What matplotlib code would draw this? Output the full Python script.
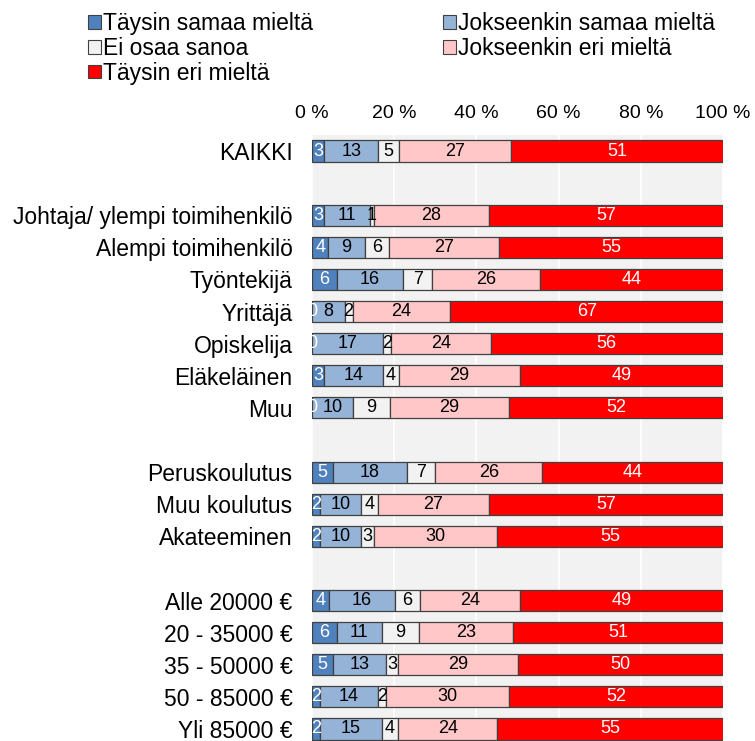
import matplotlib
matplotlib.use("Agg")
import matplotlib.pyplot as plt
from matplotlib.patches import Patch
import numpy as np

plt.rcParams['font.family'] = ['Liberation Sans', 'DejaVu Sans']

# categories, top to bottom ('' = empty spacer row)
categories = ['KAIKKI', '',
              'Johtaja/ ylempi toimihenkilö', 'Alempi toimihenkilö', 'Työntekijä',
              'Yrittäjä', 'Opiskelija', 'Eläkeläinen', 'Muu', '',
              'Peruskoulutus', 'Muu koulutus', 'Akateeminen', '',
              'Alle 20000 €', '20 - 35000 €', '35 - 50000 €', '50 - 85000 €', 'Yli 85000 €']

series = ['Täysin samaa mieltä', 'Jokseenkin samaa mieltä', 'Ei osaa sanoa',
          'Jokseenkin eri mieltä', 'Täysin eri mieltä']

# values per series (None = spacer)
taysin_samaa = [3, None, 3, 4, 6, 0, 0, 3, 0, None, 5, 2, 2, None, 4, 6, 5, 2, 2]
jokseenkin_samaa = [13, None, 11, 9, 16, 8, 17, 14, 10, None, 18, 10, 10, None, 16, 11, 13, 14, 15]
ei_osaa = [5, None, 1, 6, 7, 2, 2, 4, 9, None, 7, 4, 3, None, 6, 9, 3, 2, 4]
jokseenkin_eri = [27, None, 28, 27, 26, 24, 24, 29, 29, None, 26, 27, 30, None, 24, 23, 29, 30, 24]
taysin_eri = [51, None, 57, 55, 44, 67, 56, 49, 52, None, 44, 57, 55, None, 49, 51, 50, 52, 55]

colors = ['#4f81bd', '#95b3d7', '#f2f2f2', '#ffc7c7', '#ff0000']
text_colors = ['white', 'black', 'black', 'black', 'white']

fig = plt.figure(figsize=(7.55, 7.41), dpi=100)
ax = fig.add_axes([312/755, 1 - 745/741, 411/755, 610/741])
ax.set_facecolor('#f2f2f2')

data = [taysin_samaa, jokseenkin_samaa, ei_osaa, jokseenkin_eri, taysin_eri]
for i, cat in enumerate(categories):
    if taysin_samaa[i] is None:
        continue
    vals = np.array([d[i] for d in data], dtype=float)
    pct = vals / vals.sum() * 100  # 100 % stacked
    left = 0
    for j in range(5):
        ax.barh(i, pct[j], left=left, height=0.66, color=colors[j],
                edgecolor='#404040', linewidth=0.9, zorder=3)
        ax.text(left + pct[j] / 2, i, str(int(vals[j])), ha='center', va='center',
                fontsize=13, color=text_colors[j], zorder=4, clip_on=True)
        left += pct[j]

ax.set_xlim(0, 100)
ax.set_ylim(len(categories) - 0.5, -0.5)
ax.set_yticks(range(len(categories)))
ax.set_yticklabels(categories, fontsize=16.5)
ax.set_xticks(np.arange(0, 101, 20))
ax.set_xticklabels([f'{v} %' for v in range(0, 101, 20)], fontsize=14)
ax.xaxis.tick_top()
ax.tick_params(axis='x', length=0, pad=9)
ax.tick_params(axis='y', length=0, pad=14)
for s in ax.spines.values():
    s.set_visible(False)
ax.xaxis.grid(True, color='white', linewidth=1.2, zorder=0)
ax.set_axisbelow(True)

order = [0, 2, 4, 1, 3]
handles = [Patch(facecolor=colors[k], edgecolor='#404040', linewidth=0.8, label=series[k]) for k in order]
fig.legend(handles=handles, loc='upper left', bbox_to_anchor=(0.097, 1.004), ncol=2,
           frameon=False, fontsize=16.5, handlelength=0.55, handleheight=0.55,
           handletextpad=0.12, columnspacing=5.65, labelspacing=0.08, borderaxespad=0.25)

fig.savefig('out.png', dpi=100)
